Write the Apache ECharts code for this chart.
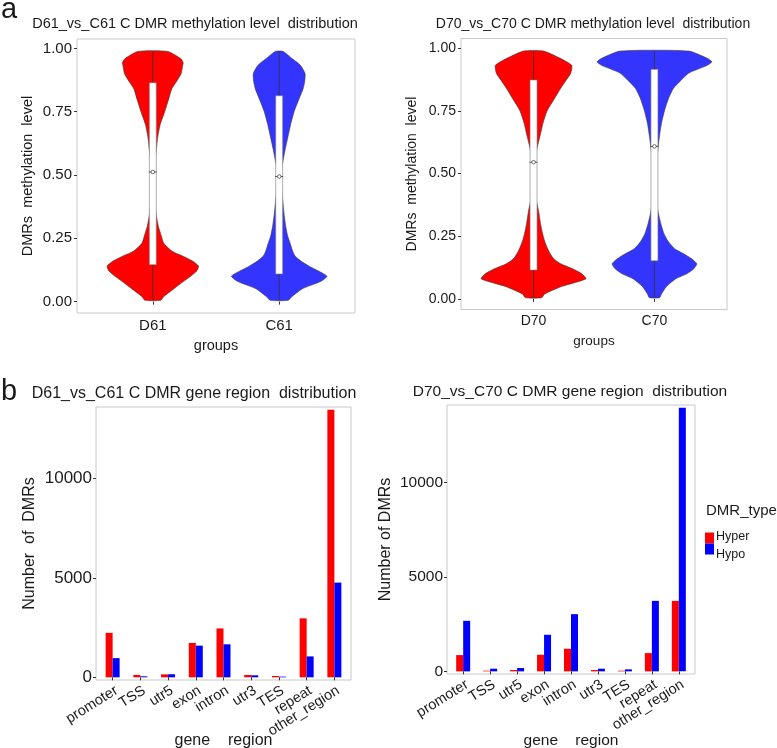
<!DOCTYPE html>
<html><head><meta charset="utf-8">
<script src="https://cdn.jsdelivr.net/npm/echarts@6/dist/echarts.min.js"></script>
<style>html,body{margin:0;padding:0;background:#fff}#c{width:777px;height:748px}</style>
</head><body><div id="c"></div>
<script>
// ---------------- data ----------------
const violinGroupsLeft = ['D61', 'C61'];
const violinGroupsRight = ['D70', 'C70'];
const methylTicks = [0, 0.25, 0.5, 0.75, 1];
// methylation levels at which violin half-widths (x-axis units) were read
const densityLevels = [0.005, 0.02, 0.05, 0.08, 0.10, 0.12, 0.14, 0.16, 0.18, 0.20, 0.23, 0.26, 0.30, 0.35, 0.40, 0.45, 0.50, 0.55, 0.60, 0.65, 0.70, 0.75, 0.80, 0.84, 0.87, 0.90, 0.93, 0.945, 0.96, 0.988];
const halfWidthD61 = [0.063, 0.087, 0.165, 0.244, 0.299, 0.346, 0.362, 0.315, 0.236, 0.150, 0.087, 0.067, 0.043, 0.025, 0.016, 0.011, 0.009, 0.016, 0.028, 0.039, 0.059, 0.094, 0.126, 0.150, 0.189, 0.224, 0.236, 0.240, 0.220, 0.118];
const halfWidthC61 = [0.071, 0.102, 0.181, 0.331, 0.378, 0.315, 0.236, 0.173, 0.126, 0.106, 0.087, 0.067, 0.051, 0.038, 0.028, 0.016, 0.009, 0.028, 0.047, 0.069, 0.091, 0.118, 0.157, 0.189, 0.202, 0.205, 0.173, 0.142, 0.102, 0.031];
const halfWidthD70 = [0.067, 0.092, 0.233, 0.433, 0.400, 0.325, 0.225, 0.167, 0.138, 0.117, 0.092, 0.075, 0.058, 0.042, 0.021, 0.013, 0.008, 0.015, 0.029, 0.054, 0.078, 0.113, 0.175, 0.225, 0.267, 0.308, 0.317, 0.275, 0.217, 0.083];
const halfWidthC70 = [0.042, 0.058, 0.100, 0.175, 0.267, 0.325, 0.350, 0.308, 0.242, 0.167, 0.113, 0.079, 0.053, 0.029, 0.017, 0.011, 0.010, 0.017, 0.029, 0.042, 0.058, 0.083, 0.117, 0.158, 0.217, 0.283, 0.433, 0.475, 0.433, 0.283];
// [q1, median, q3]
const boxD61 = [0.146, 0.512, 0.864];
const boxC61 = [0.109, 0.494, 0.813];
const boxD70 = [0.115, 0.545, 0.873];
const boxC70 = [0.152, 0.608, 0.915];

const geneRegions = ['promoter', 'TSS', 'utr5', 'exon', 'intron', 'utr3', 'TES', 'repeat', 'other_region'];
const countTicks = [0, 5000, 10000];
const hyperD61 = [2237, 120, 150, 1729, 2458, 119, 68, 2966, 13458];
const hypoD61 = [966, 50, 155, 1593, 1661, 102, 35, 1051, 4763];
const hyperD70 = [862, 35, 70, 880, 1197, 70, 35, 968, 3731];
const hypoD70 = [2675, 141, 176, 1936, 3027, 141, 106, 3731, 13957];
const dmrTypes = ['Hyper', 'Hypo'];

// ---------------- styling ----------------
const FONT = '"Liberation Sans", Arial, Helvetica, sans-serif';
const TXT = '#1a1a1a';
const RED = '#FF0000', BLUE_V = '#3434FF', BLUE = '#0000FF';

const chart = echarts.init(document.getElementById('c'), null, {renderer: 'canvas'});

function violinSeries(gi, widths, boxes, colors, halfBox) {
  return {
    type: 'custom', xAxisIndex: gi, yAxisIndex: gi, silent: true,
    data: widths.map((w, i) => [i + 1, boxes[i][1]]),
    encode: {x: 0, y: 1},
    renderItem: (params, api) => {
      const i = params.dataIndex, xc = api.value(0), w = widths[i], b = boxes[i];
      const n = densityLevels.length;
      const pts = [];
      for (let k = 0; k < n; k++) pts.push(api.coord([xc + w[k], densityLevels[k]]));
      for (let k = n - 1; k >= 0; k--) pts.push(api.coord([xc - w[k], densityLevels[k]]));
      const top = api.coord([xc, densityLevels[n - 1]]);
      const bot = api.coord([xc, densityLevels[0]]);
      const b1 = api.coord([xc - halfBox, b[2]]), b2 = api.coord([xc + halfBox, b[0]]);
      const m = api.coord([xc, b[1]]);
      return {type: 'group', children: [
        {type: 'polygon', shape: {points: pts, smooth: 0.2}, style: {fill: colors[i], stroke: '#3a3a3a', lineWidth: 0.6}},
        {type: 'line', shape: {x1: bot[0], y1: bot[1], x2: top[0], y2: top[1]}, style: {stroke: '#333', lineWidth: 0.8}},
        {type: 'rect', shape: {x: b1[0], y: b1[1], width: b2[0] - b1[0], height: b2[1] - b1[1]}, style: {fill: '#fff', stroke: '#777', lineWidth: 0.6}},
        {type: 'line', shape: {x1: m[0] - 4, y1: m[1], x2: m[0] + 4, y2: m[1]}, style: {stroke: '#333', lineWidth: 0.8}},
        {type: 'circle', shape: {cx: m[0], cy: m[1], r: 1.8}, style: {fill: '#fff', stroke: '#333', lineWidth: 0.7}}
      ]};
    }
  };
}

function groupX(gi, names, fs, nameFs, nameGap) {
  return {type: 'value', gridIndex: gi, min: 0.4, max: 2.6,
    axisLine: {show: false}, splitLine: {show: false},
    axisTick: {show: true, length: 3, lineStyle: {color: '#333'}, customValues: [1, 2]},
    axisLabel: {customValues: [1, 2], formatter: v => names[Math.round(v) - 1], fontSize: fs, color: TXT, fontFamily: FONT, margin: 5},
    name: 'groups', nameLocation: 'middle', nameGap, nameMoveOverlap: false, nameTextStyle: {fontSize: nameFs, color: TXT, fontFamily: FONT}};
}
function methylY(gi, min, max, fs, nameFs, nameGap) {
  return {type: 'value', gridIndex: gi, min, max,
    axisLine: {show: false}, splitLine: {show: false},
    axisTick: {show: true, length: 3, lineStyle: {color: '#333'}, customValues: methylTicks},
    axisLabel: {customValues: methylTicks, formatter: v => v.toFixed(2), fontSize: fs, color: TXT, fontFamily: FONT, margin: 5},
    name: 'DMRs  methylation  level', nameLocation: 'middle', nameGap, nameMoveOverlap: false, nameTextStyle: {fontSize: nameFs, color: TXT, fontFamily: FONT}};
}
// value axis carrying the bars, ticks and axis title
function regionX(gi, nameFs, nameGap) {
  const idx = geneRegions.map((r, i) => i + 1);
  return {type: 'value', gridIndex: gi, min: 0.4, max: geneRegions.length + 0.6,
    axisLine: {show: false}, splitLine: {show: false},
    axisTick: {show: true, length: 3, lineStyle: {color: '#333'}, customValues: idx},
    axisLabel: {show: false},
    name: 'gene    region', nameLocation: 'middle', nameGap, nameMoveOverlap: false, nameTextStyle: {fontSize: nameFs, color: TXT, fontFamily: FONT}};
}
// category axis (label-only) in a helper grid aligned to the same category centres
function regionLabels(gi, fs) {
  return {type: 'category', gridIndex: gi, data: geneRegions,
    axisLine: {show: false}, axisTick: {show: false}, splitLine: {show: false},
    axisLabel: {interval: 0, rotate: 32, fontSize: fs, align: 'right', verticalAlign: 'top', color: TXT, fontFamily: FONT, margin: 3}};
}
function hiddenY(gi) {
  return {type: 'value', gridIndex: gi, show: false, min: 0, max: 1};
}
function countY(gi, data, fs, nameFs, nameGap, name) {
  const mx = Math.max(...data);
  return {type: 'value', gridIndex: gi, min: -0.01 * mx, max: 1.01 * mx,
    axisLine: {show: false}, splitLine: {show: false},
    axisTick: {show: true, length: 3, lineStyle: {color: '#333'}, customValues: countTicks},
    axisLabel: {customValues: countTicks, formatter: v => String(Math.round(v)), fontSize: fs, color: TXT, fontFamily: FONT, margin: 4},
    name, nameLocation: 'middle', nameGap, nameMoveOverlap: false, nameTextStyle: {fontSize: nameFs, color: TXT, fontFamily: FONT}};
}
function barSeries(gi, data, name, color) {
  return {type: 'bar', name, xAxisIndex: gi, yAxisIndex: gi, barWidth: 7, barGap: '0%', silent: true,
    data: data.map((v, i) => [i + 1, v]), itemStyle: {color}};
}

const gridStyle = {show: true, borderColor: '#c8c8c8', borderWidth: 1, backgroundColor: 'transparent', outerBoundsMode: 'none', containLabel: false};
const barGridL = {left: 96, top: 407, width: 255, height: 273};
const barGridR = {left: 447, top: 405, width: 248, height: 269};
const span = geneRegions.length + 0.2;
const helperGrid = g => ({left: g.left + g.width * 0.1 / span, width: g.width * geneRegions.length / span, top: g.top, height: g.height, show: false, outerBoundsMode: 'none', containLabel: false});
const txt = (text, x, y, size, align) => ({type: 'text', x, y, style: {text, font: size + 'px ' + FONT, fill: TXT, textAlign: align || 'center', textVerticalAlign: 'middle'}});

chart.setOption({
  animation: false,
  grid: [
    Object.assign({left: 77, top: 39, width: 278, height: 274}, gridStyle),
    Object.assign({left: 461, top: 38.5, width: 266, height: 271}, gridStyle),
    Object.assign({}, barGridL, gridStyle),
    Object.assign({}, barGridR, gridStyle),
    helperGrid(barGridL),
    helperGrid(barGridR)
  ],
  xAxis: [
    groupX(0, violinGroupsLeft, 15, 14.5, 25),
    groupX(1, violinGroupsRight, 14, 13.5, 25),
    regionX(2, 16, 53),
    regionX(3, 15.5, 59),
    regionLabels(4, 14.5),
    regionLabels(5, 14.5)
  ],
  yAxis: [
    methylY(0, -0.045, 1.037, 15, 14.5, 42),
    methylY(1, -0.042, 1.038, 14, 14, 41.5),
    countY(2, hyperD61.concat(hypoD61), 17, 16, 58, 'Number  of  DMRs'),
    countY(3, hyperD70.concat(hypoD70), 15.5, 16, 53, 'Number of DMRs'),
    hiddenY(4),
    hiddenY(5)
  ],
  series: [
    violinSeries(0, [halfWidthD61, halfWidthC61], [boxD61, boxC61], [RED, BLUE_V], 0.0275),
    violinSeries(1, [halfWidthD70, halfWidthC70], [boxD70, boxC70], [RED, BLUE_V], 0.029),
    barSeries(2, hyperD61, dmrTypes[0], RED),
    barSeries(2, hypoD61, dmrTypes[1], BLUE),
    barSeries(3, hyperD70, dmrTypes[0], RED),
    barSeries(3, hypoD70, dmrTypes[1], BLUE)
  ],
  graphic: [
    txt('a', 1, 10, 29, 'left'),
    txt('b', 1, 392, 29, 'left'),
    txt('D61_vs_C61 C DMR methylation level  distribution', 195, 24, 14.5),
    txt('D70_vs_C70 C DMR methylation level  distribution', 593, 24, 14),
    txt('D61_vs_C61 C DMR gene region  distribution', 194, 394, 16),
    txt('D70_vs_C70 C DMR gene region  distribution', 570, 392, 15.5),
    txt('DMR_type', 706, 511, 15, 'left'),
    {type: 'rect', shape: {x: 705, y: 532.5, width: 9, height: 11}, style: {fill: RED}},
    {type: 'rect', shape: {x: 705, y: 543.5, width: 9, height: 11}, style: {fill: BLUE}},
    txt(dmrTypes[0], 716, 537, 12.5, 'left'),
    txt(dmrTypes[1], 716, 555, 12.5, 'left')
  ]
});
</script></body></html>
